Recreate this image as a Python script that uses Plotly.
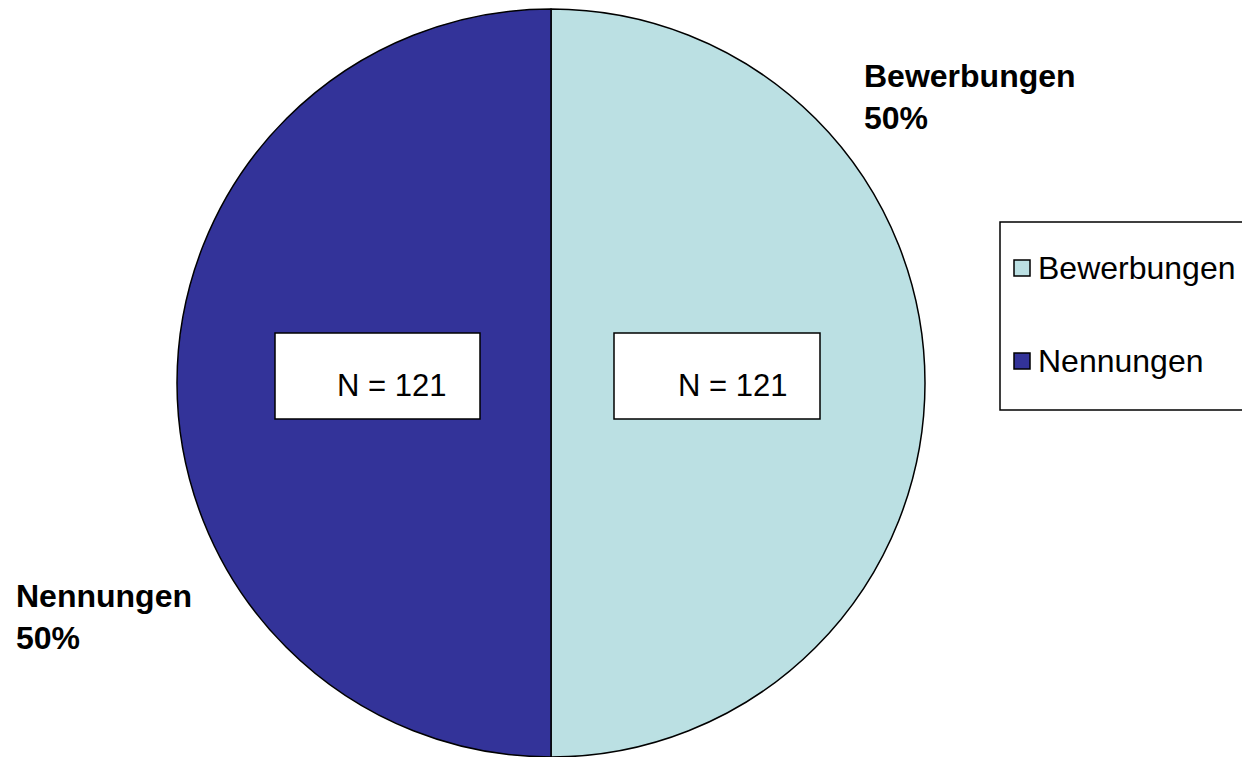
import plotly.graph_objects as go

W, H = 1250, 757
OFF = 8  # page body margin

labels = ["Bewerbungen", "Nennungen"]
values = [121, 121]
colors = ["#BBE0E3", "#333399"]

FONT = "Liberation Sans, Arial, sans-serif"


def px(x):
    return (x - OFF) / W


def py(y):
    return 1 - (y - OFF) / H


total = sum(values)
pct = [round(v / total * 100) for v in values]

fig = go.Figure()
fig.add_trace(go.Pie(
    labels=labels, values=values, sort=False, direction="clockwise", rotation=0,
    marker={"colors": colors, "line": {"color": "#000000", "width": 1.5}},
    textinfo="none", hoverinfo="label+value+percent", showlegend=False,
    domain={"x": [px(551 - 374), px(551 + 374)], "y": [py(757), py(9)]},
))

shapes = []
annotations = []

# N boxes
for (x0, x1), (tx, ty), v in zip([(614, 820), (275, 480)], [(732, 385), (392, 385)], values):
    shapes.append(dict(type="rect", xref="paper", yref="paper", x0=px(x0), x1=px(x1), y0=py(419), y1=py(333),
                       fillcolor="white", line={"color": "black", "width": 1.5}, layer="above"))
    annotations.append(dict(x=px(tx), y=py(ty), xref="paper", yref="paper", text=f"N = {v}", showarrow=False,
                            font={"family": FONT, "size": 31, "color": "black"}, xanchor="center", yanchor="middle"))

# outer labels
for (lx, ly), lab, p in zip([(862, 97), (14, 617)], labels, pct):
    annotations.append(dict(x=px(lx), y=py(ly), xref="paper", yref="paper", text=f"<b>{lab}<br>{p}%</b>",
                            showarrow=False, align="left", xanchor="left", yanchor="middle",
                            font={"family": FONT, "size": 32, "color": "black"}))

# legend
shapes.append(dict(type="rect", xref="paper", yref="paper", x0=px(1000), x1=px(1262), y0=py(410), y1=py(222),
                   fillcolor="white", line={"color": "black", "width": 1.5}))
for lab, col, cy in zip(labels, colors, [268, 361]):
    shapes.append(dict(type="rect", xref="paper", yref="paper", x0=px(1014), x1=px(1030), y0=py(cy + 8), y1=py(cy - 8),
                       fillcolor=col, line={"color": "black", "width": 1.5}))
    annotations.append(dict(x=px(1036), y=py(cy), xref="paper", yref="paper", text=lab, showarrow=False,
                            xanchor="left", yanchor="middle", font={"family": FONT, "size": 32, "color": "black"}))

fig.update_layout(
    width=W, height=H, margin={"l": 0, "r": 0, "t": 0, "b": 0},
    paper_bgcolor="white", plot_bgcolor="white",
    shapes=shapes, annotations=annotations, showlegend=False,
)

fig.write_html("out.html")
